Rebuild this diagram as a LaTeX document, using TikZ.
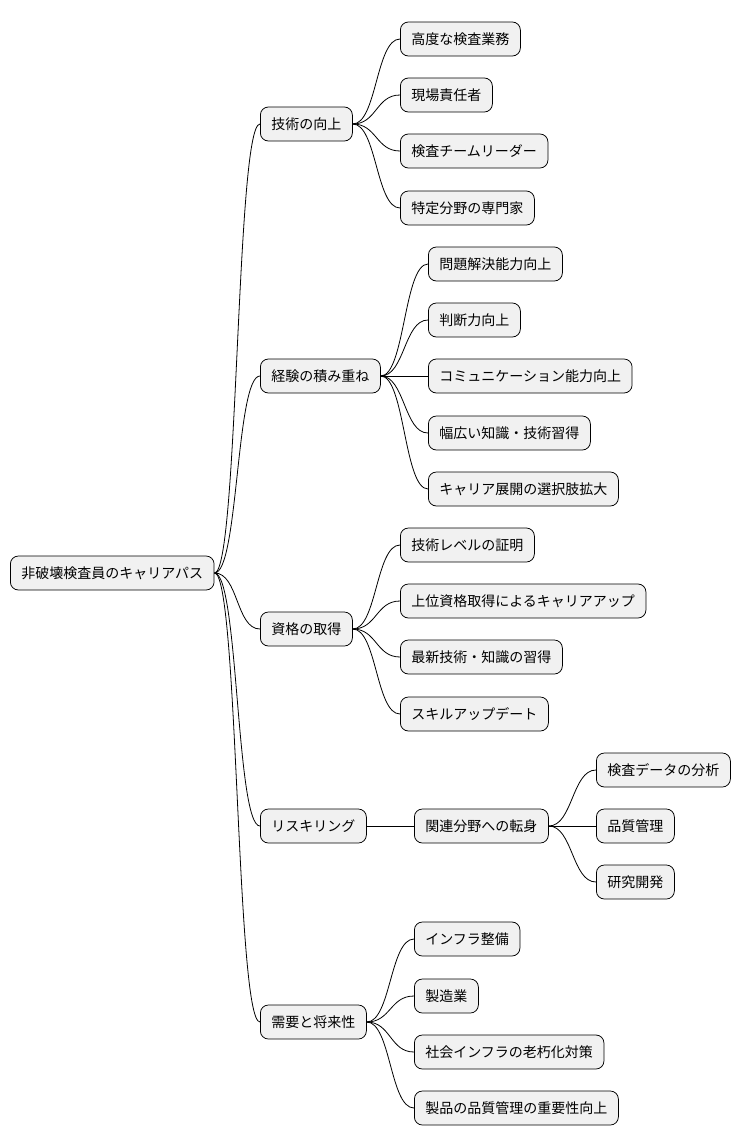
\documentclass[tikz,border=0pt]{standalone}
\usepackage{fontspec}
\setmainfont{Noto Sans CJK JP}
\tikzset{every picture/.style={line width=0.75pt}}
\tikzset{
  topic/.style={draw,rounded corners=8pt,fill={rgb,255:red,241;green,241;blue,241},anchor=west,
    minimum height=34pt,inner xsep=11pt,font=\fontsize{14}{16}\selectfont},
  link/.style={line width=0.8pt}
}
\begin{document}
\begin{tikzpicture}[x=1pt,y=1pt,yscale=-1]
	\useasboundingbox (0,0) rectangle (740,1146);
	% root
	\node[topic] (root) at (10,573) {非破壊検査員のキャリアパス};
	% level 1
	\node[topic] (skill) at (260,124) {技術の向上};
	\node[topic] (exp) at (260,376) {経験の積み重ね};
	\node[topic] (cert) at (260,629) {資格の取得};
	\node[topic] (resk) at (260,826) {リスキリング};
	\node[topic] (demand) at (260,1022) {需要と将来性};
	% level 2
	\node[topic] (s1) at (400,39) {高度な検査業務};
	\node[topic] (s2) at (400,95) {現場責任者};
	\node[topic] (s3) at (400,151) {検査チームリーダー};
	\node[topic] (s4) at (400,208) {特定分野の専門家};
	\node[topic] (e1) at (428,264) {問題解決能力向上};
	\node[topic] (e2) at (428,320) {判断力向上};
	\node[topic] (e3) at (428,376) {コミュニケーション能力向上};
	\node[topic] (e4) at (428,433) {幅広い知識・技術習得};
	\node[topic] (e5) at (428,489) {キャリア展開の選択肢拡大};
	\node[topic] (c1) at (400,545) {技術レベルの証明};
	\node[topic] (c2) at (400,601) {上位資格取得によるキャリアアップ};
	\node[topic] (c3) at (400,657) {最新技術・知識の習得};
	\node[topic] (c4) at (400,714) {スキルアップデート};
	\node[topic] (r1) at (414,826) {関連分野への転身};
	\node[topic] (d1) at (414,939) {インフラ整備};
	\node[topic] (d2) at (414,996) {製造業};
	\node[topic] (d3) at (414,1052) {社会インフラの老朽化対策};
	\node[topic] (d4) at (414,1108) {製品の品質管理の重要性向上};
	% level 3
	\node[topic] (t1) at (596,770) {検査データの分析};
	\node[topic] (t2) at (596,826) {品質管理};
	\node[topic] (t3) at (596,882) {研究開発};
	% connectors
	\foreach \p/\c in {root/skill,root/exp,root/cert,root/resk,root/demand,
	  skill/s1,skill/s2,skill/s3,skill/s4,
	  exp/e1,exp/e2,exp/e3,exp/e4,exp/e5,
	  cert/c1,cert/c2,cert/c3,cert/c4,
	  resk/r1,r1/t1,r1/t2,r1/t3,
	  demand/d1,demand/d2,demand/d3,demand/d4}
	  \draw[link] (\p.east) .. controls +(24,0) and +(-24,0) .. (\c.west);
\end{tikzpicture}
\end{document}
